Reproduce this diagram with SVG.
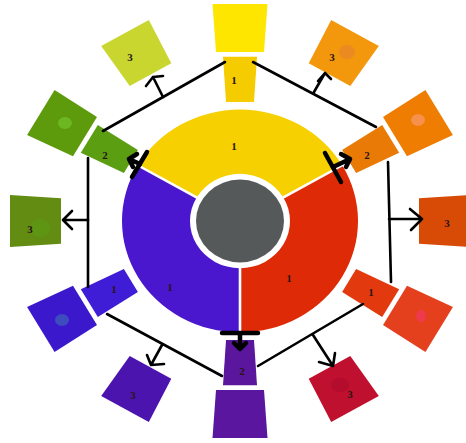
<svg xmlns="http://www.w3.org/2000/svg" xmlns:xlink="http://www.w3.org/1999/xlink" width="466" height="443" viewBox="0 0 466 443">
<style>
.lbl{font-family:"Liberation Serif","DejaVu Serif",serif;font-weight:bold;font-size:11px;fill:#2a1414;text-anchor:middle}
.ln{fill:none;stroke:#000;stroke-width:2.6;stroke-linecap:round;stroke-linejoin:round}
.thick{fill:none;stroke:#000;stroke-width:4.5;stroke-linecap:round;stroke-linejoin:round}
.gap{stroke:#fff;stroke-width:2.6}
</style>
<defs>
<polygon id="tIn" points="-14,-126 14,-126 17,-174 -17,-174"/>
<polygon id="tOut" points="-24,-179 24,-179 27.5,-230 -27.5,-230"/>
</defs>
<rect width="466" height="443" fill="#fff"/>
<g id="wheel" transform="translate(240,221) scale(1,0.944)">
<path id="ring-yellow" d="M-102.2,-59 A118,118 0 0 1 102.2,-59 L43.3,-25 A50,50 0 0 0 -43.3,-25 Z" fill="#F6D000"/>
<path id="ring-red" d="M102.2,-59 A118,118 0 0 1 0,118 L0,50 A50,50 0 0 0 43.3,-25 Z" fill="#DF2A08"/>
<path id="ring-purple" d="M0,118 A118,118 0 0 1 -102.2,-59 L-43.3,-25 A50,50 0 0 0 0,50 Z" fill="#4A16CE"/>
<line class="gap" x1="0" y1="48" x2="0" y2="121"/>
<line class="gap" x1="-41.6" y1="-24" x2="-105" y2="-60.6"/>
<line class="gap" x1="41.6" y1="-24" x2="105" y2="-60.6"/>
<circle id="core" r="44" fill="#56595A"/>
</g>
<text class="lbl" x="234" y="150">1</text>
<text class="lbl" x="289" y="282">1</text>
<text class="lbl" x="170" y="291">1</text>

<g id="t270-outer"><use xlink:href="#tOut" transform="translate(240,221) scale(1,0.944)" fill="#FFE600"/></g>
<g id="t270-inner"><use xlink:href="#tIn" transform="translate(240,221) scale(1,0.944)" fill="#F5CC00"/><text class="lbl" x="234" y="84">1</text></g>
<g id="t300"><use xlink:href="#tOut" transform="translate(240,221) scale(1,0.944) rotate(30)" fill="#F3980C"/><ellipse cx="347" cy="52" rx="8" ry="7" fill="#EC8A22"/><text class="lbl" x="332" y="61">3</text></g>
<g id="t330-inner"><use xlink:href="#tIn" transform="translate(240,221) scale(1,0.944) rotate(60)" fill="#EA7A06"/><text class="lbl" x="367" y="159">2</text></g>
<g id="t330-outer"><use xlink:href="#tOut" transform="translate(240,221) scale(1,0.944) rotate(60)" fill="#EF7D02"/><ellipse cx="418" cy="120" rx="7" ry="6" fill="#F6904A"/></g>
<g id="t0"><use xlink:href="#tOut" transform="translate(240,221) scale(1,0.944) rotate(90)" fill="#D84B06"/><text class="lbl" x="447" y="227">3</text></g>
<g id="t30-inner"><use xlink:href="#tIn" transform="translate(240,221) scale(1,0.944) rotate(120)" fill="#E23A0E"/><text class="lbl" x="371" y="296">1</text></g>
<g id="t30-outer"><use xlink:href="#tOut" transform="translate(240,221) scale(1,0.944) rotate(120)" fill="#E5401E"/><ellipse cx="421" cy="316" rx="5" ry="6" fill="#EF3A4E"/></g>
<g id="t60"><use xlink:href="#tOut" transform="translate(240,221) scale(1,0.944) rotate(150)" fill="#C01030"/><ellipse cx="340" cy="385" rx="9" ry="7" fill="#B30C2C"/><text class="lbl" x="350" y="398">3</text></g>
<g id="t90-inner"><use xlink:href="#tIn" transform="translate(240,221) scale(1,0.944) rotate(180)" fill="#5B169E"/><text class="lbl" x="242" y="375">2</text></g>
<g id="t90-outer"><use xlink:href="#tOut" transform="translate(240,221) scale(1,0.944) rotate(180)" fill="#5A169F"/></g>
<g id="t120"><use xlink:href="#tOut" transform="translate(240,221) scale(1,0.944) rotate(210)" fill="#4B14AE"/><text class="lbl" x="133" y="399">3</text></g>
<g id="t150-inner"><use xlink:href="#tIn" transform="translate(240,221) scale(1,0.944) rotate(240)" fill="#3F1CD6"/><text class="lbl" x="114" y="293">1</text></g>
<g id="t150-outer"><use xlink:href="#tOut" transform="translate(240,221) scale(1,0.944) rotate(240)" fill="#3B18CC"/><ellipse cx="62" cy="320" rx="7" ry="6" fill="#3D4CBE"/></g>
<g id="t180"><use xlink:href="#tOut" transform="translate(240,221) scale(1,0.944) rotate(270)" fill="#628C12"/><ellipse cx="40" cy="228" rx="10" ry="9" fill="#5E9614"/><text class="lbl" x="30" y="233">3</text></g>
<g id="t210-inner"><use xlink:href="#tIn" transform="translate(240,221) scale(1,0.944) rotate(300)" fill="#5C9E12"/><text class="lbl" x="105" y="159">2</text></g>
<g id="t210-outer"><use xlink:href="#tOut" transform="translate(240,221) scale(1,0.944) rotate(300)" fill="#5D9A0C"/><ellipse cx="65" cy="123" rx="7" ry="6" fill="#6CB822"/></g>
<g id="t240"><use xlink:href="#tOut" transform="translate(240,221) scale(1,0.944) rotate(330)" fill="#C9D630"/><text class="lbl" x="130" y="61">3</text></g>

<g id="connectors">
<path class="ln" d="M225,62 L103,131"/>
<path class="ln" d="M163,97 L153,77 M146,86 L153,77 L163,76"/>
<path class="ln" d="M253,62 L376,127"/>
<path class="ln" d="M314,92 L325,73 M318,81 L325,73 L331,79"/>
<path class="ln" d="M388,162 L391,282"/>
<path class="ln" d="M389,219 L422,219 M410,209 L422,219 L411,230"/>
<path class="ln" d="M88,158 L88,287"/>
<path class="ln" d="M88,220 L63,220 M72,211 L63,220 L72,229"/>
<path class="ln" d="M107,314 L222,376"/>
<path class="ln" d="M162,345 L151,365 M147,355 L151,365 L164,364"/>
<path class="ln" d="M363,304 L258,366"/>
<path class="ln" d="M313,335 L333,366 M319,362 L333,366 L335,353"/>
<path class="thick" d="M147,152 L132,177"/>
<path class="thick" d="M140,164 L129,159 M137,154 L129,159 L133,167"/>
<path class="thick" d="M325,153 L341,182"/>
<path class="thick" d="M333,167 L350,159 M341,154 L350,159 L346,167"/>
<path class="thick" d="M222,333 L258,333 M240,333 L240,348 M234,343 L240,349 L246,343"/>
</g>
</svg>
